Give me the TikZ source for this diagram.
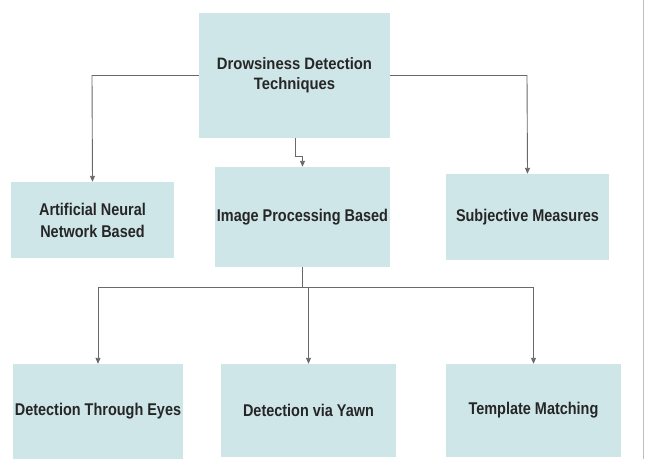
\documentclass[tikz,border=0pt]{standalone}
\usepackage{fontspec}
\setmainfont[FakeStretch=0.85]{Liberation Sans}
\newfontfamily\topfont[FakeStretch=0.9]{Liberation Sans}
\usetikzlibrary{arrows.meta}
\definecolor{boxfill}{RGB}{207,230,233}
\definecolor{linegray}{RGB}{105,105,105}
\tikzset{
  box/.style={fill=boxfill, draw=none, inner sep=0pt, align=center, font=\fontsize{17}{22}\selectfont\bfseries, text=black!85},
  conn/.style={draw=linegray, line width=0.9pt, -{Triangle[length=6pt,width=5pt]}},
  plain/.style={draw=linegray, line width=0.9pt}
}
\begin{document}
\begin{tikzpicture}[x=1pt,y=-1pt]
\useasboundingbox (0,0) rectangle (653,459);
\fill[white] (0,0) rectangle (653,459);
\draw[gray!50, line width=1pt] (643,0) -- (643,459);
% boxes: corners given in pixel coords
\node[box, minimum width=191pt, minimum height=125pt, font=\topfont\fontsize{16.5}{20}\selectfont\bfseries] (top) at (294.5,75.5) {Drowsiness Detection\\Techniques};
\node[box, minimum width=163pt, minimum height=76pt] (ann) at (92.5,220) {Artificial Neural\\Network Based};
\node[box, minimum width=175pt, minimum height=100pt] (ipb) at (302.5,217) {Image Processing Based};
\node[box, minimum width=163pt, minimum height=86pt] (sm) at (527.5,217) {Subjective Measures};
\node[box, minimum width=170pt, minimum height=95pt] (dte) at (98,411.5) {Detection Through Eyes};
\node[box, minimum width=175pt, minimum height=93pt] (dvy) at (308.5,410.5) {Detection via Yawn};
\node[box, minimum width=175pt, minimum height=93pt] (tm) at (533.5,410.5) {Template Matching};
% connectors
\coordinate (l1) at (92,75.5);
\coordinate (r1) at (527,75.5);
\draw[conn] (top.west) -- (l1) -- (ann.north);
\draw[conn] (top.east) -- (r1) -- (sm.north);
\coordinate (m1) at (295,138);
\coordinate (m2) at (295,156);
\coordinate (m3) at (302.5,156);
\draw[conn] (m1) -- (m2) -- (m3) -- (ipb.north);
\coordinate (h0) at (302.5,287);
\coordinate (hl) at (98,287);
\coordinate (hm) at (308.5,287);
\coordinate (hr) at (533.5,287);
\draw[plain] (ipb.south) -- (h0);
\draw[plain] (hl) -- (hr);
\draw[conn] (hl) -- (dte.north);
\draw[conn] (hm) -- (dvy.north);
\draw[conn] (hr) -- (tm.north);
\end{tikzpicture}
\end{document}
